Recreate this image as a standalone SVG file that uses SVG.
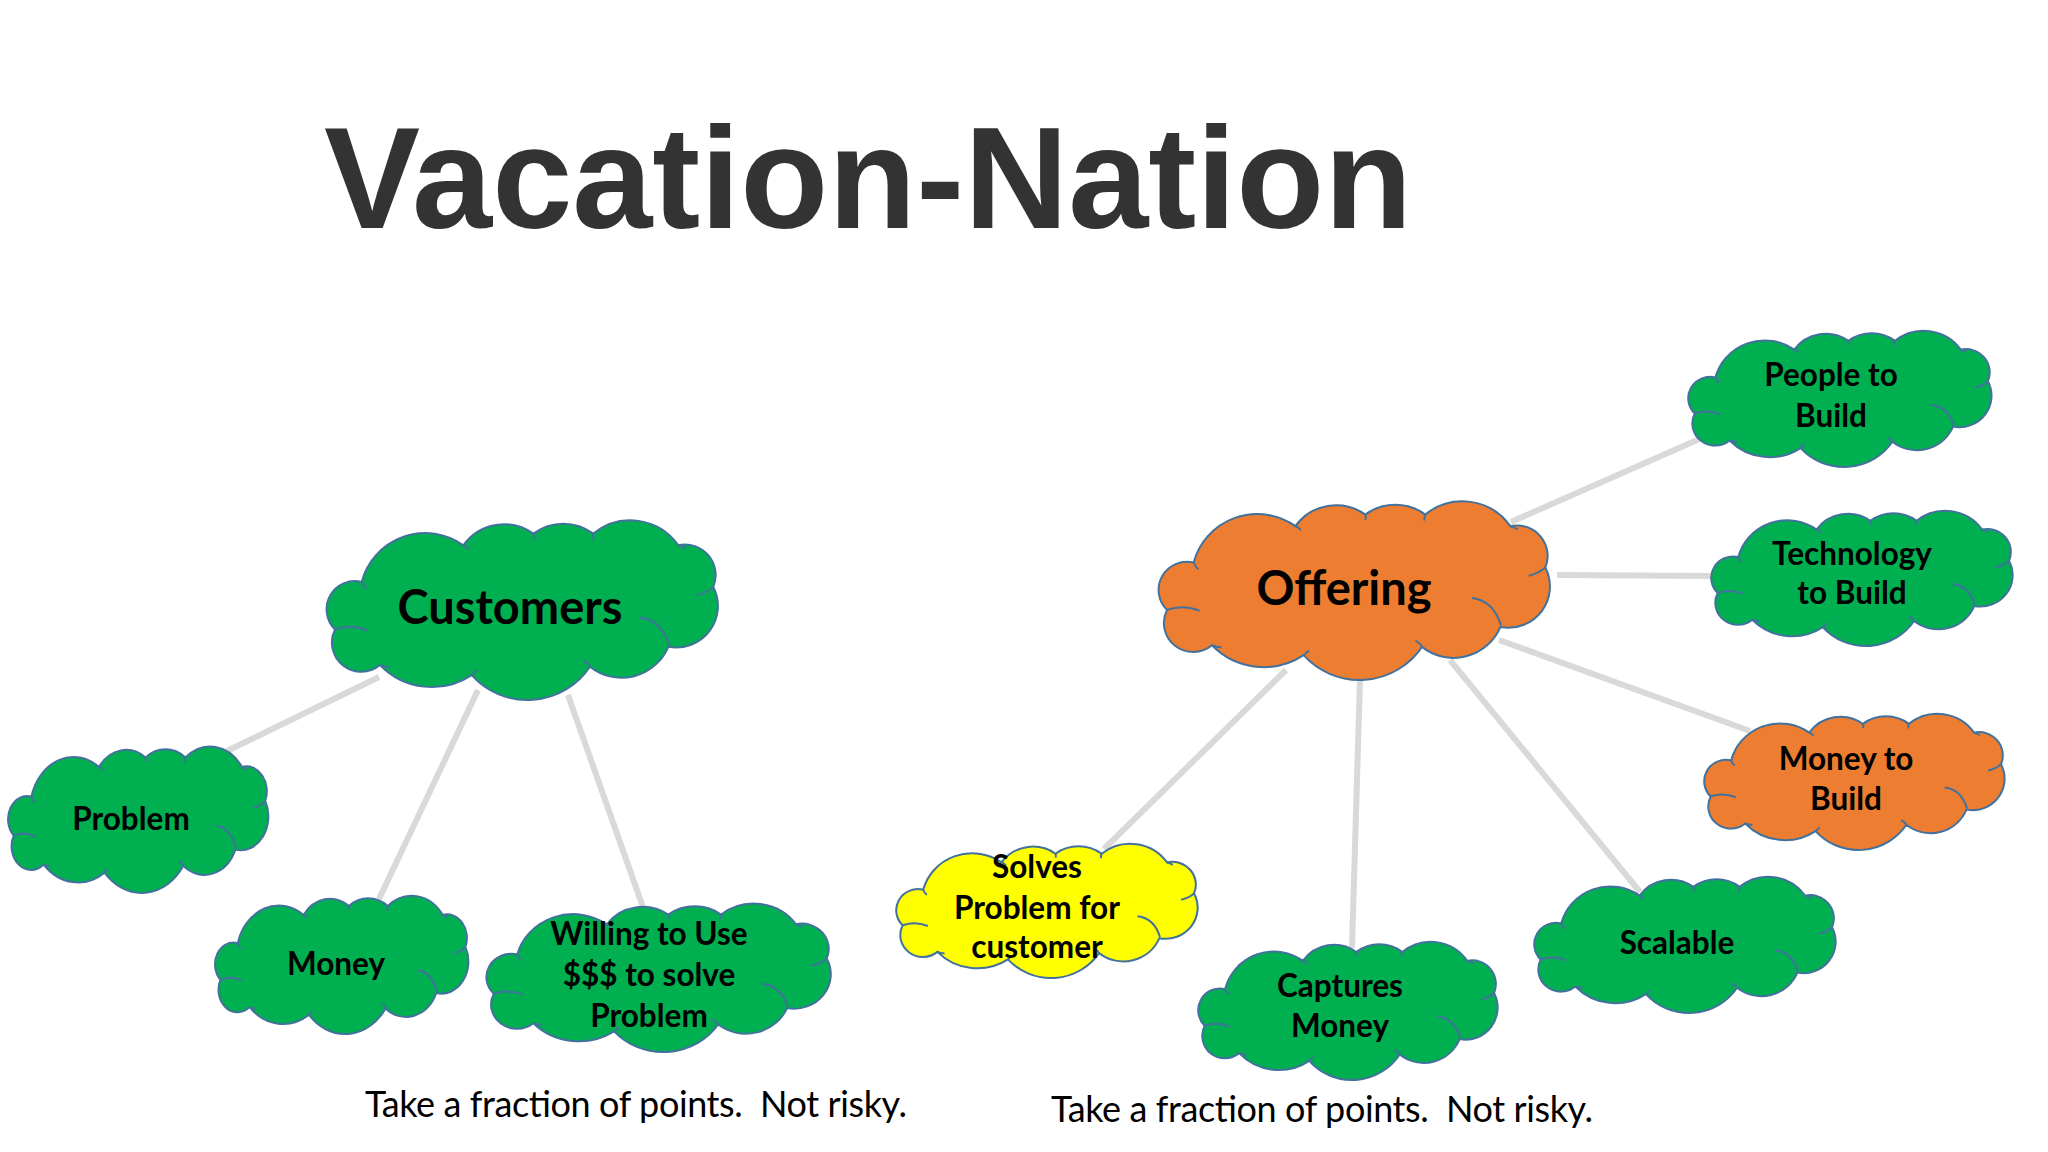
<svg xmlns="http://www.w3.org/2000/svg" xmlns:xlink="http://www.w3.org/1999/xlink" width="2048" height="1152" viewBox="0 0 2048 1152">
<style>
.bg{fill:#ffffff}
.title{font-family:"Liberation Sans",Arial,sans-serif;font-weight:bold;font-size:144px;fill:#333333}
.conn{stroke:#D9D9D9;stroke-width:6;fill:none;stroke-linecap:butt}
.cloud{stroke:#41719C;stroke-width:2}
.inner{fill:none;stroke:#41719C;stroke-width:2}
.green{fill:#00B050}
.orange{fill:#ED7D31}
.yellow{fill:#FFFF00}
.big{font-family:Lato,"Open Sans",sans-serif;font-weight:bold;font-size:47px;fill:#000;text-anchor:middle}
.lbl{font-family:Lato,"Open Sans",sans-serif;font-weight:bold;font-size:31.5px;fill:#000;text-anchor:middle}
.note{font-family:Lato,"Open Sans",sans-serif;font-size:36px;fill:#000;white-space:pre}
</style>
<defs>
<path id="cloudShape" vector-effect="non-scaling-stroke" d="M110,180 A85,85 0 0 0 30,323 A88,88 0 0 0 165,430 A216,216 0 0 0 440,460 A225,225 0 0 0 795,435 A152,152 0 0 0 1030,375 A125,125 0 0 0 1165,195 A92,92 0 0 0 1060,70 A175,175 0 0 0 805,35 A150,150 0 0 0 625,35 A150,150 0 0 0 415,70 A197,197 0 0 0 110,180 Z"/>
<path id="cloudInner" vector-effect="non-scaling-stroke" d="M30,323 Q80,306 128,326 M110,180 q4,12 14,20 M412,68 q12,4 20,14 M625,35 q3,8 0,16 M805,35 q-4,8 -2,18 M1060,70 q12,2 22,10 M1165,195 q-20,18 -50,25 M945,287 Q1010,295 1032,370 M795,435 q-5,-12 -20,-18 M440,462 q6,-10 16,-16 M165,430 q12,6 28,6"/>
</defs>
<rect class="bg" x="0" y="0" width="2048" height="1152"/>
<text class="title" x="324" y="228">Vacation-Nation</text>
<g id="connectors">
<line class="conn" x1="379" y1="677" x2="225" y2="752"/>
<line class="conn" x1="478" y1="690" x2="379" y2="899"/>
<line class="conn" x1="568" y1="695" x2="644" y2="910"/>
<line class="conn" x1="1511" y1="522" x2="1704" y2="437"/>
<line class="conn" x1="1557" y1="575" x2="1711" y2="576"/>
<line class="conn" x1="1499" y1="640" x2="1750" y2="731"/>
<line class="conn" x1="1450" y1="660" x2="1640" y2="892"/>
<line class="conn" x1="1360" y1="679" x2="1352" y2="948"/>
<line class="conn" x1="1286" y1="670" x2="1104" y2="849"/>
</g>
<g id="customers">
<g transform="translate(325,522) scale(0.3333,0.3327)"><use xlink:href="#cloudShape" class="cloud green"/><use xlink:href="#cloudInner" class="inner"/></g>
<text class="big" x="510" y="624">Customers</text>
</g>
<g id="offering">
<g transform="translate(1157,503) scale(0.3333,0.3308)"><use xlink:href="#cloudShape" class="cloud orange"/><use xlink:href="#cloudInner" class="inner"/></g>
<text class="big" x="1344" y="605">Offering</text>
</g>
<g id="problem">
<g transform="translate(7,748) scale(0.2217,0.2710)"><use xlink:href="#cloudShape" class="cloud green"/><use xlink:href="#cloudInner" class="inner"/></g>
<text class="lbl" x="131" y="830">Problem</text>
</g>
<g id="money">
<g transform="translate(214,897) scale(0.2158,0.2561)"><use xlink:href="#cloudShape" class="cloud green"/><use xlink:href="#cloudInner" class="inner"/></g>
<text class="lbl" x="336" y="975">Money</text>
</g>
<g id="willing">
<g transform="translate(485,905) scale(0.2933,0.2748)"><use xlink:href="#cloudShape" class="cloud green"/><use xlink:href="#cloudInner" class="inner"/></g>
<text class="lbl" x="649" y="945">Willing to Use</text>
<text class="lbl" x="649" y="986">$$$ to solve</text>
<text class="lbl" x="649" y="1027">Problem</text>
</g>
<g id="solves">
<g transform="translate(895,845) scale(0.2567,0.2486)"><use xlink:href="#cloudShape" class="cloud yellow"/><use xlink:href="#cloudInner" class="inner"/></g>
<text class="lbl" x="1037" y="878">Solves</text>
<text class="lbl" x="1037" y="919">Problem for</text>
<text class="lbl" x="1037" y="958">customer</text>
</g>
<g id="captures">
<g transform="translate(1197,943) scale(0.2550,0.2561)"><use xlink:href="#cloudShape" class="cloud green"/><use xlink:href="#cloudInner" class="inner"/></g>
<text class="lbl" x="1340" y="997">Captures</text>
<text class="lbl" x="1340" y="1037">Money</text>
</g>
<g id="scalable">
<g transform="translate(1533,878) scale(0.2567,0.2523)"><use xlink:href="#cloudShape" class="cloud green"/><use xlink:href="#cloudInner" class="inner"/></g>
<text class="lbl" x="1677" y="954">Scalable</text>
</g>
<g id="people">
<g transform="translate(1687,332) scale(0.2583,0.2523)"><use xlink:href="#cloudShape" class="cloud green"/><use xlink:href="#cloudInner" class="inner"/></g>
<text class="lbl" x="1831" y="386">People to</text>
<text class="lbl" x="1831" y="427">Build</text>
</g>
<g id="technology">
<g transform="translate(1710,512) scale(0.2567,0.2505)"><use xlink:href="#cloudShape" class="cloud green"/><use xlink:href="#cloudInner" class="inner"/></g>
<text class="lbl" x="1852" y="565">Technology</text>
<text class="lbl" x="1852" y="604">to Build</text>
</g>
<g id="moneyToBuild">
<g transform="translate(1703,715) scale(0.2558,0.2523)"><use xlink:href="#cloudShape" class="cloud orange"/><use xlink:href="#cloudInner" class="inner"/></g>
<text class="lbl" x="1846" y="770">Money to</text>
<text class="lbl" x="1846" y="810">Build</text>
</g>
<text class="note" x="365" y="1117" textLength="542" xml:space="preserve">Take a fraction of points.  Not risky.</text>
<text class="note" x="1051" y="1122" textLength="542" xml:space="preserve">Take a fraction of points.  Not risky.</text>
</svg>
